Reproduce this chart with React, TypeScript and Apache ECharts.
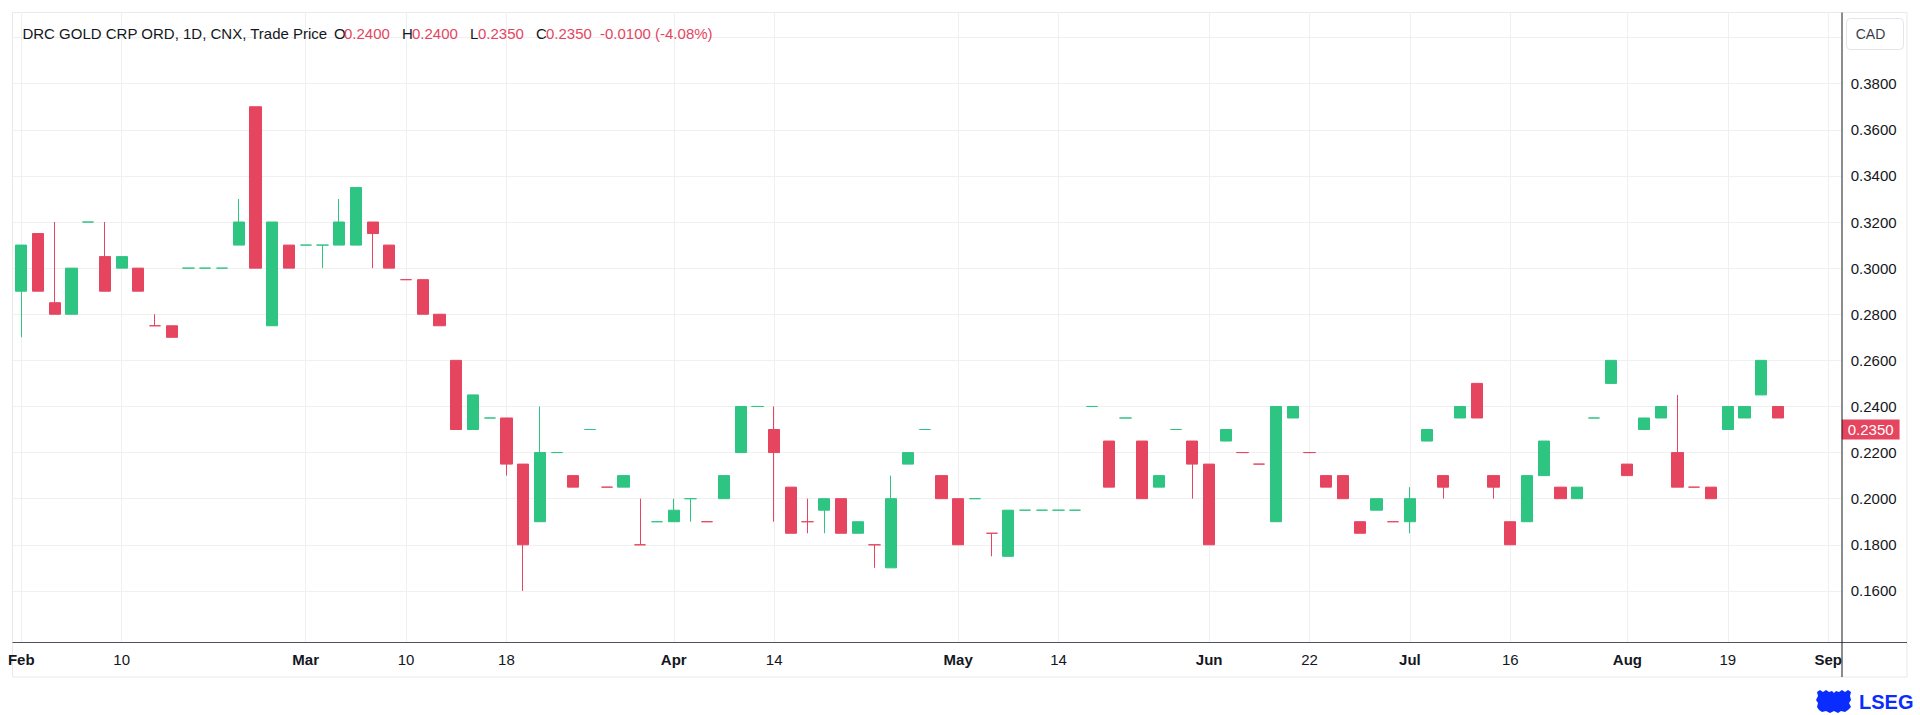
import React, { useEffect, useRef } from "react";
import * as echarts from "echarts";

// ---- data ----
const opens = [
  0.29, 0.315, 0.285, 0.28, 0.32, 0.305, 0.3, 0.3, 0.275, 0.275,
  0.3, 0.3, 0.3, 0.31, 0.37, 0.275, 0.31, 0.31, 0.31, 0.31,
  0.31, 0.32, 0.31, 0.295, 0.295, 0.28, 0.26, 0.23, 0.235, 0.235,
  0.215, 0.19, 0.22, 0.21, 0.23, 0.205, 0.205, 0.18, 0.19, 0.19,
  0.2, 0.19, 0.2, 0.22, 0.24, 0.23, 0.205, 0.19, 0.195, 0.2,
  0.185, 0.18, 0.17, 0.215, 0.23, 0.21, 0.2, 0.2, 0.185, 0.175,
  0.195, 0.195, 0.195, 0.195, 0.24, 0.225, 0.235, 0.225, 0.205, 0.23,
  0.225, 0.215, 0.225, 0.22, 0.215, 0.19, 0.235, 0.22, 0.21, 0.21,
  0.19, 0.195, 0.19, 0.19, 0.225, 0.21, 0.235, 0.25, 0.21, 0.19,
  0.19, 0.21, 0.205, 0.2, 0.235, 0.25, 0.215, 0.23, 0.235, 0.22,
  0.205, 0.205, 0.23, 0.235, 0.245, 0.24,
];
const highs = [
  0.31, 0.315, 0.32, 0.3, 0.32, 0.32, 0.305, 0.3, 0.28, 0.275,
  0.3, 0.3, 0.3, 0.33, 0.37, 0.32, 0.31, 0.31, 0.31, 0.33,
  0.335, 0.32, 0.31, 0.295, 0.295, 0.28, 0.26, 0.245, 0.235, 0.235,
  0.215, 0.24, 0.22, 0.21, 0.23, 0.205, 0.21, 0.2, 0.19, 0.2,
  0.2, 0.19, 0.21, 0.24, 0.24, 0.24, 0.205, 0.2, 0.2, 0.2,
  0.19, 0.18, 0.21, 0.22, 0.23, 0.21, 0.2, 0.2, 0.185, 0.195,
  0.195, 0.195, 0.195, 0.195, 0.24, 0.225, 0.235, 0.225, 0.21, 0.23,
  0.225, 0.215, 0.23, 0.22, 0.215, 0.24, 0.24, 0.22, 0.21, 0.21,
  0.19, 0.2, 0.19, 0.205, 0.23, 0.21, 0.24, 0.25, 0.21, 0.19,
  0.21, 0.225, 0.205, 0.205, 0.235, 0.26, 0.215, 0.235, 0.24, 0.245,
  0.205, 0.205, 0.24, 0.24, 0.26, 0.24,
];
const lows = [
  0.27, 0.29, 0.28, 0.28, 0.32, 0.29, 0.3, 0.29, 0.275, 0.27,
  0.3, 0.3, 0.3, 0.31, 0.3, 0.275, 0.3, 0.31, 0.3, 0.31,
  0.31, 0.3, 0.3, 0.295, 0.28, 0.275, 0.23, 0.23, 0.235, 0.21,
  0.16, 0.19, 0.22, 0.205, 0.23, 0.205, 0.205, 0.18, 0.19, 0.19,
  0.19, 0.19, 0.2, 0.22, 0.24, 0.19, 0.185, 0.185, 0.185, 0.185,
  0.185, 0.17, 0.17, 0.215, 0.23, 0.2, 0.18, 0.2, 0.175, 0.175,
  0.195, 0.195, 0.195, 0.195, 0.24, 0.205, 0.235, 0.2, 0.205, 0.23,
  0.2, 0.18, 0.225, 0.22, 0.215, 0.19, 0.235, 0.22, 0.205, 0.2,
  0.185, 0.195, 0.19, 0.185, 0.225, 0.2, 0.235, 0.235, 0.2, 0.18,
  0.19, 0.21, 0.2, 0.2, 0.235, 0.25, 0.21, 0.23, 0.235, 0.205,
  0.205, 0.2, 0.23, 0.235, 0.245, 0.235,
];
const closes = [
  0.31, 0.29, 0.28, 0.3, 0.32, 0.29, 0.305, 0.29, 0.275, 0.27,
  0.3, 0.3, 0.3, 0.32, 0.3, 0.32, 0.3, 0.31, 0.31, 0.32,
  0.335, 0.315, 0.3, 0.295, 0.28, 0.275, 0.23, 0.245, 0.235, 0.215,
  0.18, 0.22, 0.22, 0.205, 0.23, 0.205, 0.21, 0.18, 0.19, 0.195,
  0.2, 0.19, 0.21, 0.24, 0.24, 0.22, 0.185, 0.19, 0.2, 0.185,
  0.19, 0.18, 0.2, 0.22, 0.23, 0.2, 0.18, 0.2, 0.185, 0.195,
  0.195, 0.195, 0.195, 0.195, 0.24, 0.205, 0.235, 0.2, 0.21, 0.23,
  0.215, 0.18, 0.23, 0.22, 0.215, 0.24, 0.24, 0.22, 0.205, 0.2,
  0.185, 0.2, 0.19, 0.2, 0.23, 0.205, 0.24, 0.235, 0.205, 0.18,
  0.21, 0.225, 0.2, 0.205, 0.235, 0.26, 0.21, 0.235, 0.24, 0.205,
  0.205, 0.2, 0.24, 0.24, 0.26, 0.235,
];
// flat (open == close) sessions whose colour in the source differs from the previous-close rule
const dojiDirections = [
  { index: 28, dir: "up" },
  { index: 47, dir: "down" },
  { index: 100, dir: "down" },
];

const dateTickIndex = [0, 6, 17, 23, 29, 39, 45, 56, 62, 71, 77, 83, 89, 96, 102, 108];
const dateTickLabels = ["Feb", "10", "Mar", "10", "18", "Apr", "14", "May", "14", "Jun", "22", "Jul", "16", "Aug", "19", "Sep"];
const priceGridValues = [0.16, 0.18, 0.2, 0.22, 0.24, 0.26, 0.28, 0.3, 0.32, 0.34, 0.36, 0.38, 0.4];
const priceLabelValues = [0.16, 0.18, 0.2, 0.22, 0.24, 0.26, 0.28, 0.3, 0.32, 0.34, 0.36, 0.38];

const instrumentTitle = "DRC GOLD CRP ORD, 1D, CNX, Trade Price";
const lastOHLC = { o: "0.2400", h: "0.2400", l: "0.2350", c: "0.2350" };
const lastChange = "-0.0100 (-4.08%)";
const currency = "CAD";
const lastPrice = 0.235;

// ---- styles ----
const UP = "#2ec482";
const DOWN = "#e5455f";
const TEXT = "#131722";
const GRID = "#f0f0f0";
const FONT = "'Liberation Sans', Arial, sans-serif";
const BLUE = "#0b2cff";

const crestPath =
  "M1 2 L4 0 L7 2 L10 0 L13 2 L16 1 L18 3 L20 1 L23 2 L26 0 L29 2 L32 0 L35 2 L34 6 L35 10 L33 13 L35 17 L32 20 L29 22 L25 21 L22 23 L18 21 L14 23 L10 21 L6 22 L3 20 L1 17 L2 13 L0 10 L2 6 Z";
let crestRegistered = false;

export default function App() {
  const ref = useRef<HTMLDivElement>(null);

  useEffect(() => {
    if (!ref.current) return;
    if (!crestRegistered) {
      echarts.graphic.registerShape("lsegCrest", echarts.graphic.extendPath(crestPath, {}));
      crestRegistered = true;
    }
    const chart = echarts.init(ref.current, undefined, { renderer: "svg" });

    const overrides: Record<number, string> = {};
    dojiDirections.forEach((d) => (overrides[d.index] = d.dir));

    const candleData = opens.map((o, i) => {
      const item: any = { value: [i, o, closes[i], lows[i], highs[i]] };
      if (overrides[i]) {
        const c = overrides[i] === "up" ? UP : DOWN;
        item.itemStyle = { color: c, color0: c, borderColor: c, borderColor0: c };
      }
      return item;
    });

    const legendY = 33.5;
    const legendParts: any[] = [
      { text: instrumentTitle, x: 22.4, fill: TEXT },
      { text: "O", x: 334, fill: TEXT },
      { text: lastOHLC.o, x: 344, fill: DOWN },
      { text: "H", x: 402, fill: TEXT },
      { text: lastOHLC.h, x: 412, fill: DOWN },
      { text: "L", x: 470, fill: TEXT },
      { text: lastOHLC.l, x: 478, fill: DOWN },
      { text: "C", x: 536, fill: TEXT },
      { text: lastOHLC.c, x: 546, fill: DOWN },
      { text: lastChange, x: 600, fill: DOWN },
    ];

    const option: any = {
      animation: false,
      backgroundColor: "#ffffff",
      textStyle: { fontFamily: FONT },
      grid: {
        left: 12.9,
        right: 78.3,
        top: 12.7,
        bottom: 72.7,
        containLabel: false,
        outerBoundsMode: "none",
      },
      xAxis: {
        type: "value",
        min: -0.5,
        max: 108.81,
        axisLine: { show: false },
        axisTick: { show: false, customValues: dateTickIndex },
        axisLabel: {
          customValues: dateTickIndex,
          margin: 10,
          color: TEXT,
          fontSize: 15,
          fontFamily: FONT,
          formatter: (v: number) => {
            const k = dateTickIndex.indexOf(Math.round(v));
            if (k < 0) return "";
            const lab = dateTickLabels[k];
            return isNaN(Number(lab)) ? `{m|${lab}}` : lab;
          },
          rich: {
            m: { fontWeight: "bold", fontSize: 15, fontFamily: FONT, color: TEXT },
          },
        },
        splitLine: { show: true, lineStyle: { color: GRID, width: 1 } },
      },
      yAxis: {
        type: "value",
        position: "right",
        min: 0.1377,
        max: 0.4108,
        scale: true,
        axisLine: { show: false },
        axisTick: { show: false, customValues: priceGridValues },
        axisLabel: {
          customValues: priceLabelValues,
          margin: 9,
          color: TEXT,
          fontSize: 15,
          fontFamily: FONT,
          formatter: (v: number) => v.toFixed(4),
        },
        splitLine: { show: true, lineStyle: { color: GRID, width: 1 } },
      },
      series: [
        {
          type: "candlestick",
          data: candleData,
          barWidth: 11.7,
          itemStyle: {
            color: UP,
            color0: DOWN,
            borderColor: UP,
            borderColor0: DOWN,
            borderWidth: 1,
          },
          markLine: {
            silent: true,
            symbol: "none",
            animation: false,
            data: [{ yAxis: lastPrice }],
            lineStyle: { color: "transparent", width: 0 },
            label: {
              show: true,
              position: "end",
              distance: 0,
              formatter: () => lastPrice.toFixed(4),
              backgroundColor: DOWN,
              color: "#ffffff",
              fontSize: 15,
              fontFamily: FONT,
              padding: [3, 6, 2, 6],
            },
          },
        },
      ],
      graphic: [
        {
          type: "rect",
          silent: true,
          z: 0,
          shape: { x: 12.5, y: 12.5, width: 1894.5, height: 664.5 },
          style: { fill: "none", stroke: "#e9e9e9", lineWidth: 1 },
        },
        {
          type: "line",
          silent: true,
          z: 10,
          shape: { x1: 12.5, y1: 642.5, x2: 1907, y2: 642.5 },
          style: { stroke: "#50535e", lineWidth: 1 },
        },
        {
          type: "line",
          silent: true,
          z: 10,
          shape: { x1: 1842, y1: 12.5, x2: 1842, y2: 677 },
          style: { stroke: "#1a1a1a", lineWidth: 1 },
        },
        {
          type: "rect",
          silent: true,
          z: 10,
          shape: { x: 1846.5, y: 18.5, width: 57, height: 31, r: 4 },
          style: { fill: "#ffffff", stroke: "#e3e5ea", lineWidth: 1 },
        },
        {
          type: "text",
          silent: true,
          z: 11,
          x: 1870.5,
          y: 34,
          style: {
            text: currency,
            fill: "#3a3d45",
            font: `14px ${FONT}`,
            align: "center",
            verticalAlign: "middle",
          },
        },
        ...legendParts.map((p) => ({
          type: "text",
          silent: true,
          z: 11,
          x: p.x,
          y: legendY,
          style: {
            text: p.text,
            fill: p.fill,
            font: `15px ${FONT}`,
            align: "left",
            verticalAlign: "middle",
          },
        })),
        {
          type: "lsegCrest",
          silent: true,
          z: 11,
          x: 1816,
          y: 690,
          scaleX: 1,
          scaleY: 1,
          style: { fill: BLUE },
        },
        {
          type: "text",
          silent: true,
          z: 11,
          x: 1859,
          y: 702,
          style: {
            text: "LSEG",
            fill: BLUE,
            font: `bold 20px ${FONT}`,
            align: "left",
            verticalAlign: "middle",
          },
        },
      ],
    };

    chart.setOption(option);
    return () => chart.dispose();
  }, []);

  return (
    <div
      ref={ref}
      style={{ position: "fixed", left: 0, top: 0, width: 1920, height: 715, background: "#ffffff" }}
    />
  );
}
